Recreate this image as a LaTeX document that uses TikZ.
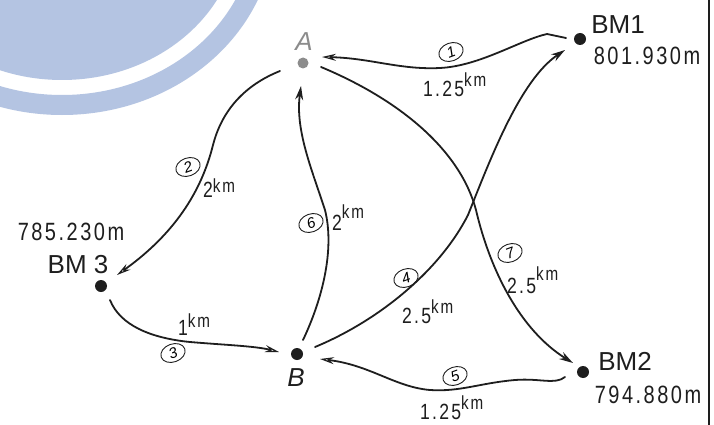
\documentclass[tikz,border=0pt]{standalone}
\usepackage{fontspec}
\setmainfont{Liberation Sans}
\newfontfamily\numfont[FakeStretch=0.8,LetterSpace=10]{Liberation Sans}
\usetikzlibrary{arrows.meta,shapes.geometric,calc}
\definecolor{ink}{RGB}{30,30,30}
\definecolor{wm}{RGB}{180,196,226}
\definecolor{faded}{RGB}{140,140,140}
\newcommand\kmlab[2]{#1\raisebox{#2pt}{\fontsize{19}{19}\selectfont km}}
\begin{document}
\begin{tikzpicture}[x=1pt,y=-1pt, line cap=round,
  dot/.style={circle,fill=ink,inner sep=0pt,minimum size=12pt},
  conn/.style={draw=ink,line width=1.8pt},
  tipf/.style={-{Stealth[length=14pt,width=8pt]}},
  tipo/.style={-{Stealth[open,length=14pt,width=7pt,line width=1.2pt]}},
  circ/.style={ellipse,draw=ink,line width=0.9pt,inner sep=0pt,minimum width=25pt,minimum height=18pt,font=\fontsize{15}{15}\selectfont\itshape},
  bm/.style={font=\fontsize{26}{26}\selectfont,inner sep=0pt,text=ink},
  elev/.style={font=\numfont\fontsize{25}{25}\selectfont,inner sep=0pt,text=ink},
  dist/.style={font=\numfont\fontsize{22}{22}\selectfont,inner sep=0pt,anchor=base west,text=ink},
  ptlab/.style={font=\fontsize{26}{26}\selectfont\itshape,inner sep=0pt,text=ink}
]
\useasboundingbox (0,0) rectangle (714,425);
\fill[white] (0,0) rectangle (714,425);
% watermark
\begin{scope}
\clip (0,0) rectangle (714,425);
\fill[wm] (62,-75) ellipse [x radius=177pt, y radius=155pt];
\draw[wm, line width=20pt] (62,-75) ellipse [x radius=203pt, y radius=180pt];
\end{scope}
% border
\draw[ink, line width=2pt] (709,0) -- (709,425);
% points
\node[dot,fill=faded,minimum size=11pt] (a) at (303,63) {};
\node[dot] (bm1) at (580,39) {};
\node[dot] (bm2) at (583,372) {};
\node[dot] (bm3) at (101,286) {};
\node[dot] (b) at (297,354) {};
% point labels
\node[ptlab,text=faded] (la) at (304,42) {A};
\node[ptlab] (lb) at (296,378) {B};
\node[bm] (lbm1) at (618,25) {BM1};
\node[elev] (ebm1) at (647,56) {801.930m};
\node[bm] (lbm2) at (625,361) {BM2};
\node[elev] (ebm2) at (648,395) {794.880m};
\node[bm] (lbm3) at (78,265) {BM 3};
\node[elev] (ebm3) at (71,232) {785.230m};
% connectors
\draw[conn,tipo] ($(bm1)+(-14,-1)$) -- (547,34) .. controls (520,40) and (480,66) .. (440,68) .. controls (400,70) and (370,58) .. ($(a)+(19,-6)$);
\draw[conn,tipo] ($(a)+(-23,8)$) .. controls (245,85) and (222,110) .. (213,145) .. controls (203,185) and (180,230) .. ($(bm3)+(16,-11)$);
\draw[conn,tipo] ($(bm3)+(9,14)$) .. controls (120,325) and (150,338) .. (190,342) .. controls (225,345) and (255,346) .. ($(b)+(-18,-2)$);
\draw[conn,tipf] ($(b)+(6,-14)$) .. controls (322,300) and (335,250) .. (325,210) .. controls (312,170) and (295,130) .. ($(a)+(-2,23)$);
\draw[conn,tipf] ($(b)+(18,-7)$) .. controls (380,320) and (440,270) .. (468,215) .. controls (490,160) and (520,80) .. ($(bm1)+(-15,11)$);
\draw[conn,tipf] ($(a)+(18,4)$) .. controls (400,100) and (460,150) .. (476,210) .. controls (490,270) and (520,330) .. ($(bm2)+(-10,-9)$);
\draw[conn,tipo] ($(bm2)+(-18,5)$) .. controls (555,385) and (540,378) .. (515,380) .. controls (480,383) and (460,392) .. (430,390) .. controls (395,387) and (370,365) .. ($(b)+(23,5)$);
% circled numbers
\node[circ,rotate=20] (c1) at (451,52) {1};
\node[circ,rotate=20] (c2) at (188,167) {2};
\node[circ,rotate=20] (c3) at (173,353) {3};
\node[circ,rotate=20] (c4) at (406,278) {4};
\node[circ,rotate=20] (c5) at (455,376) {5};
\node[circ,rotate=20] (c6) at (311,223) {6};
\node[circ,rotate=20] (c7) at (510,253) {7};
% distances
\node[dist] (d1) at (423,97) {\kmlab{1.25}{10}};
\node[dist] (d2) at (203,197) {\kmlab{2}{5}};
\node[dist] (d3) at (178,335) {\kmlab{1}{8}};
\node[dist] (d4) at (402,323) {\kmlab{2.5}{10}};
\node[dist] (d5) at (420,419) {\kmlab{1.25}{10}};
\node[dist] (d6) at (332,230) {\kmlab{2}{12}};
\node[dist] (d7) at (507,293) {\kmlab{2.5}{13}};
\end{tikzpicture}
\end{document}
